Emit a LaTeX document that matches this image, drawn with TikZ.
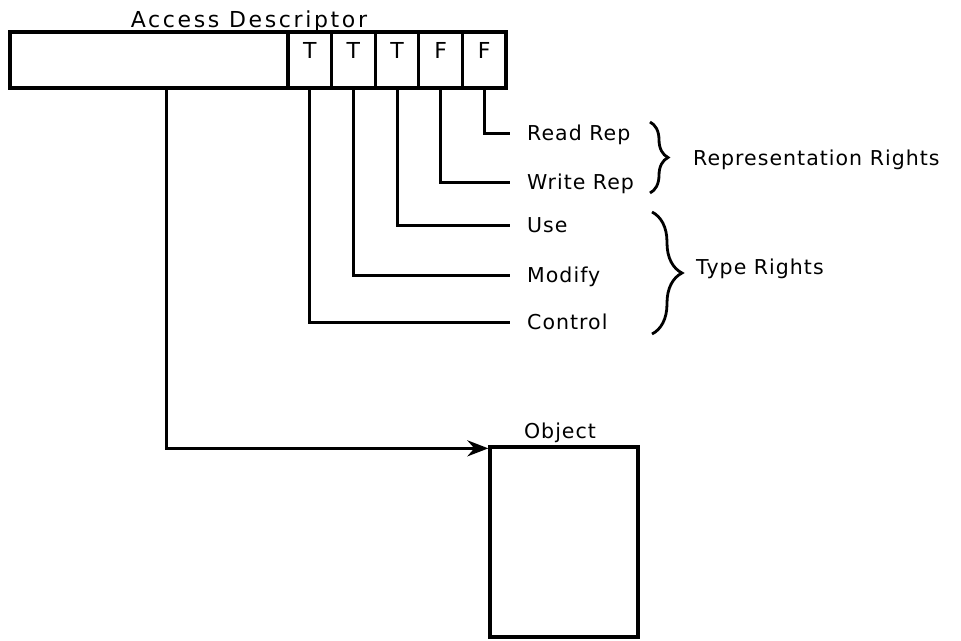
\documentclass[tikz,border=0pt]{standalone}
\usepackage{fontspec}
\usepackage{tikz}
\usetikzlibrary{arrows.meta,positioning,decorations.pathreplacing,calc}
\newfontfamily\plotfont{DejaVu Sans}[LetterSpace=5]
\newfontfamily\titlefont{DejaVu Sans}[LetterSpace=12]
\newcommand{\plotsize}{\fontsize{20.5}{23}\selectfont}
\newcommand{\bigplotsize}{\fontsize{22}{25}\selectfont}

\begin{document}
\begin{tikzpicture}[x=1pt,y=-1pt,
  box/.style={rectangle,draw=black,line width=3.3pt,inner sep=0pt},
  cellbox/.style={box,minimum width=43.6pt,minimum height=56pt},
  txt/.style={inner sep=0pt,font=\plotfont\plotsize,text height=14.5pt,text depth=0pt},
  wire/.style={line width=3pt,line cap=rect},
  brc/.style={line width=2.8pt,decorate,decoration={brace,amplitude=#1}}]
\useasboundingbox (0,0) rectangle (961,640);
% access descriptor with its rights bits
\node[box,minimum width=496pt,minimum height=56pt] (ad) at (258,60) {};
\node[txt,font=\titlefont\bigplotsize,text height=16pt] (adl) at (249,19) {Access Descriptor};
\foreach \i/\v in {1/T,2/T,3/T,4/F,5/F} {
  \node[cellbox] (c\i) at ({288+43.6*(\i-0.5)},60) {};
  \node[txt,font=\plotfont\bigplotsize,text height=16pt] (v\i) at ([yshift=10pt]c\i.center) {\v};
}
% rights labels
\node[txt,anchor=west] (rr) at (527,133) {Read Rep};
\node[txt,anchor=west] (wr) at (527,182) {Write Rep};
\node[txt,anchor=west] (us) at (527,225) {Use};
\node[txt,anchor=west] (mo) at (527,275) {Modify};
\node[txt,anchor=west] (co) at (527,322) {Control};
\foreach \c/\l in {c5/rr,c4/wr,c3/us,c2/mo,c1/co} \draw[wire,shorten >=19pt] (\c.south) |- (\l.west);
\draw[brc=18pt] (650,122) -- (650,193);
\draw[brc=30pt] (652,212) -- (652,334);
\node[txt,anchor=west] (repr) at (693,158) {Representation Rights};
\node[txt,anchor=west] (typr) at (696,267) {Type Rights};
% pointer to the object
\node[box,minimum width=148pt,minimum height=190pt] (obj) at (564,542) {};
\node[txt] (objl) at (560,431) {Object};
\coordinate (ptr) at (166,88);
\draw[wire,-{Stealth[length=21pt,width=16pt,inset=7pt]}] (ptr) |- ([yshift=-3pt]obj.north west);
\end{tikzpicture}
\end{document}
